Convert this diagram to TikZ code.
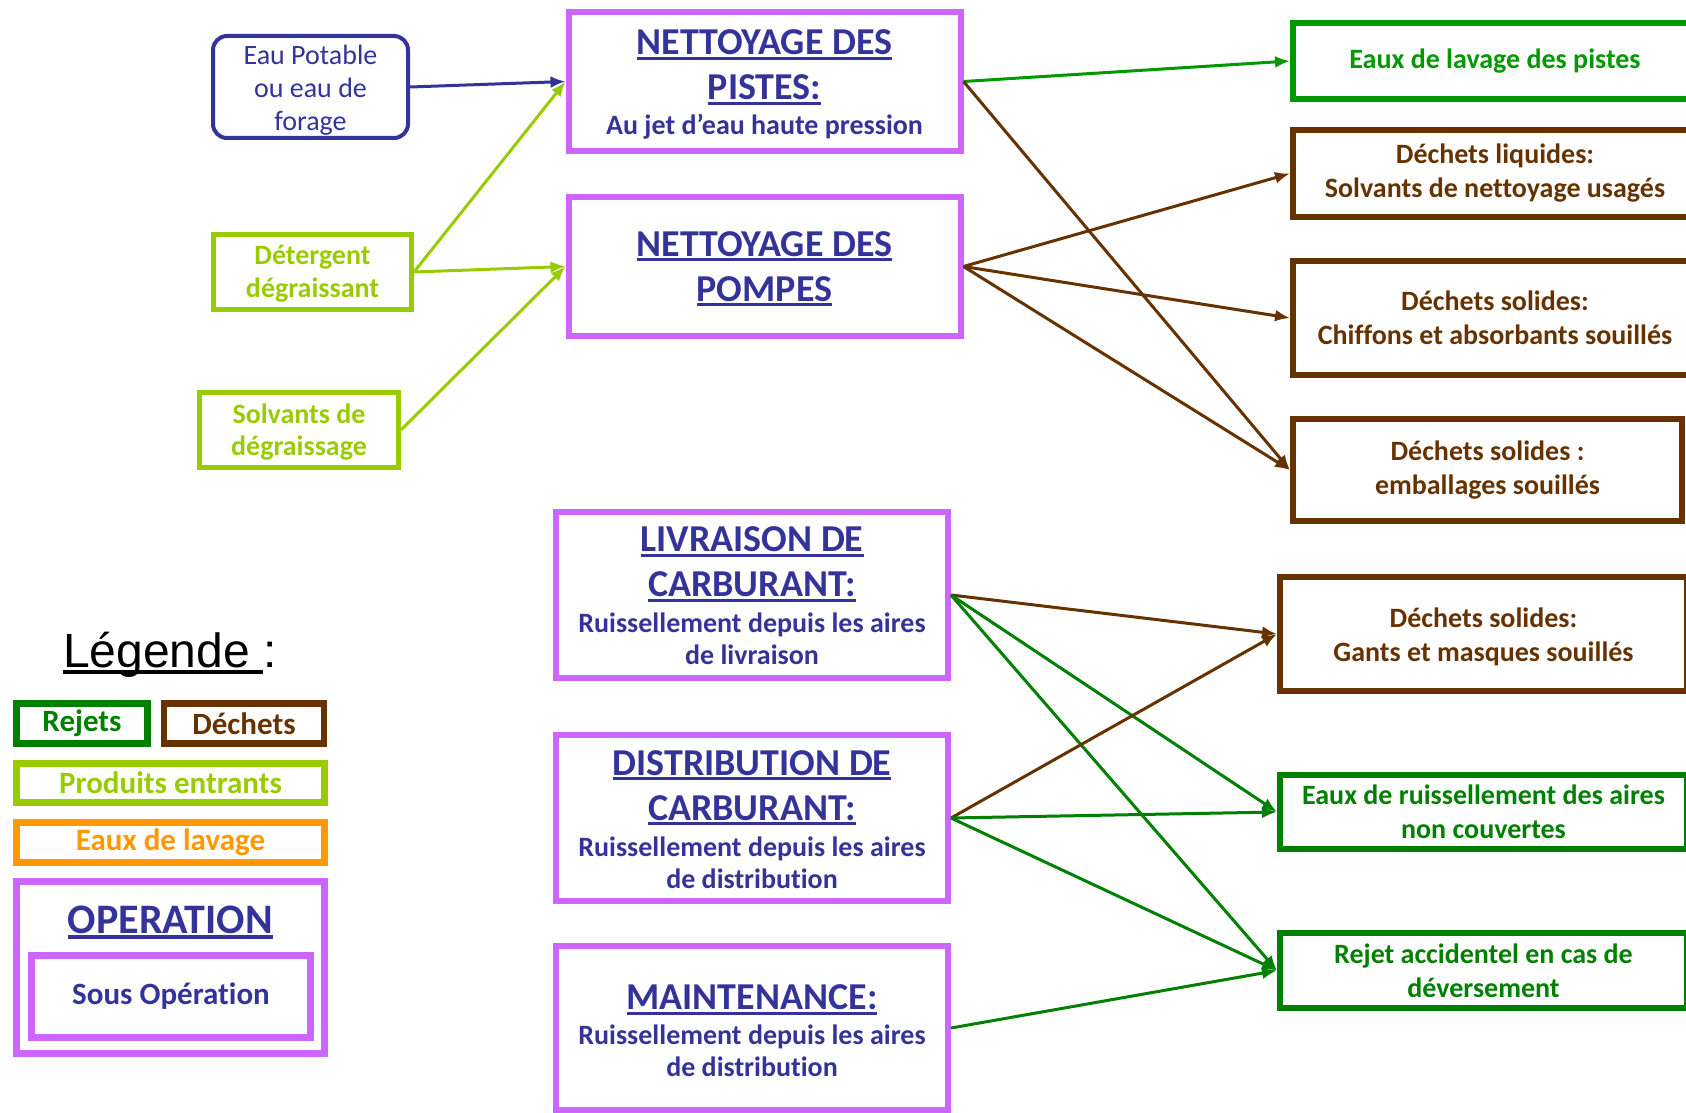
\documentclass[tikz,border=0pt]{standalone}
\usepackage{fontspec}
\setmainfont{Carlito}[Ligatures=CommonOff]
\newfontfamily\legfont{Liberation Sans}
\usetikzlibrary{arrows.meta,positioning}

\definecolor{opviolet}{HTML}{CC66FF}
\definecolor{optexte}{HTML}{333399}
\definecolor{entrant}{HTML}{99CC00}
\definecolor{rejet}{HTML}{008000}
\definecolor{rejetclair}{HTML}{009900}
\definecolor{dechet}{HTML}{663300}
\definecolor{lavage}{HTML}{FF9900}

\newcommand\souligne[1]{\setbox0\hbox{#1}\rlap{\rule[-0.13em]{\wd0}{0.075em}}\box0}
\newcommand\soustitre{\fontsize{28}{33}\selectfont}
\newcommand\haut[1]{\rule{0pt}{#1}}

\tikzset{
  >={Latex[length=15pt,width=12pt]},
  fleche/.style={->,line width=3pt},
  operation/.style={draw=opviolet,line width=6pt,rectangle,inner sep=0pt,align=center,text=optexte,font=\bfseries\fontsize{38}{45}\selectfont,minimum width=392pt},
  entree/.style={draw=entrant,line width=5pt,rectangle,inner sep=0pt,align=center,text=entrant,font=\bfseries\fontsize{28}{33}\selectfont,minimum width=198pt,minimum height=75pt},
  rejetbox/.style={draw=rejet,line width=6pt,rectangle,inner sep=0pt,align=center,text=rejet,font=\bfseries\fontsize{28}{34}\selectfont},
  dechetbox/.style={draw=dechet,line width=6pt,rectangle,inner sep=0pt,align=center,text=dechet,font=\bfseries\fontsize{28}{34}\selectfont},
  legbox/.style={line width=6.5pt,rectangle,inner sep=0pt,align=center,font=\bfseries\fontsize{31}{36}\selectfont}
}

\begin{document}
\begin{tikzpicture}[x=1pt,y=-1pt]
\useasboundingbox (0,0) rectangle (1686,1113);
\clip (0,0) rectangle (1686,1113);

% produits entrants
\node[draw=optexte,line width=4pt,rounded corners=14pt,inner sep=0pt,align=center,text=optexte,font=\fontsize{28}{33}\selectfont,minimum width=195pt,minimum height=102pt] (eau) at (310.5,87) {\haut{25pt}Eau Potable\\ou eau de\\forage};
\node[entree] (detergent) at (312.5,272) {\haut{23pt}Détergent\\dégraissant};
\node[entree,minimum width=199pt] (solvants) at (299,430) {\haut{23pt}Solvants de\\[-1pt]dégraissage};

% operations
\node[operation,minimum height=139pt] (pistes) at (764.5,81.5) {\haut{31pt}\souligne{NETTOYAGE DES}\\\souligne{PISTES:}\\[-10pt]{\soustitre Au jet d’eau haute pression}};
\node[operation,minimum height=139pt,below=40pt of pistes] (pompes) {\haut{29pt}\souligne{NETTOYAGE DES}\\\souligne{POMPES}};
\node[operation,minimum height=166pt] (livraison) at (752,595) {\haut{27pt}\souligne{LIVRAISON DE}\\\souligne{CARBURANT:}\\[-9pt]{\soustitre Ruissellement depuis les aires}\\[-13pt]{\soustitre de livraison}};
\node[operation,minimum height=166pt,below=51pt of livraison] (distribution) {\haut{28pt}\souligne{DISTRIBUTION DE}\\\souligne{CARBURANT:}\\[-9pt]{\soustitre Ruissellement depuis les aires}\\[-13pt]{\soustitre de distribution}};
\node[operation,minimum height=164pt,below=39pt of distribution] (maintenance) {\haut{31pt}\souligne{MAINTENANCE:}\\[-10pt]{\soustitre Ruissellement depuis les aires}\\[-13pt]{\soustitre de distribution}};

% rejets et dechets
\node[rejetbox,draw=rejetclair,text=rejetclair,minimum width=404pt,minimum height=76pt] (lavpistes) at (1495,61) {Eaux de lavage des pistes};
\node[dechetbox,minimum width=404pt,minimum height=87pt] (liquides) at (1495,173.5) {Déchets liquides:\\Solvants de nettoyage usagés};
\node[dechetbox,minimum width=404pt,minimum height=114pt] (chiffons) at (1495,318) {Déchets solides:\\Chiffons et absorbants souillés};
\node[dechetbox,minimum width=389pt,minimum height=102pt] (emballages) at (1487.5,470) {Déchets solides :\\emballages souillés};
\node[dechetbox,minimum width=407pt,minimum height=114pt] (gants) at (1483.5,634) {\haut{25pt}Déchets solides:\\Gants et masques souillés};
\node[rejetbox,minimum width=407pt,minimum height=74pt] (ruissellement) at (1483.5,812) {Eaux de ruissellement des aires\\non couvertes};
\node[rejetbox,minimum width=407pt,minimum height=75pt] (accidentel) at (1483.5,970.5) {Rejet accidentel en cas de\\déversement};

% fleches
\draw[fleche,optexte] (eau.east) -- (pistes.west);
\draw[fleche,entrant] (detergent.east) -- (pistes.west);
\draw[fleche,entrant] (detergent.east) -- (pompes.west);
\draw[fleche,entrant] (solvants.east) -- (pompes.west);
\draw[fleche,rejetclair] (pistes.east) -- (lavpistes.west);
\draw[fleche,dechet] (pistes.east) -- (emballages.west);
\draw[fleche,dechet] (pompes.east) -- (liquides.west);
\draw[fleche,dechet] (pompes.east) -- (chiffons.west);
\draw[fleche,dechet] (pompes.east) -- (emballages.west);
\draw[fleche,dechet] (livraison.east) -- (gants.west);
\draw[fleche,rejet] (livraison.east) -- (ruissellement.west);
\draw[fleche,rejet] (livraison.east) -- (accidentel.west);
\draw[fleche,dechet] (distribution.east) -- (gants.west);
\draw[fleche,rejet] (distribution.east) -- (ruissellement.west);
\draw[fleche,rejet] (distribution.east) -- (accidentel.west);
\draw[fleche,rejet] (maintenance.east) -- (accidentel.west);

% legende
\node[font=\legfont\fontsize{48}{56}\selectfont,inner sep=0pt] (legende) at (170,655) {\souligne{Légende\ }:};
\node[legbox,draw=rejet,text=rejet,minimum width=131pt,minimum height=40pt] (legrejets) at (82,723.5) {Rejets};
\node[legbox,draw=dechet,text=dechet,minimum width=160pt,minimum height=40pt,right=10pt of legrejets] (legdechets) {Déchets};
\node[legbox,draw=entrant,text=entrant,minimum width=308pt,minimum height=39pt] (legentrants) at (170.5,783) {Produits entrants};
\node[legbox,draw=lavage,text=lavage,minimum width=308pt,minimum height=40pt] (leglavage) at (170.5,842.5) {Eaux de lavage};
\node[legbox,draw=opviolet,minimum width=308pt,minimum height=172pt] (legop) at (170.5,967.5) {};
\node[text=optexte,font=\bfseries\fontsize{42}{48}\selectfont,inner sep=0pt] (legoptitre) at (170.5,922) {\souligne{OPERATION}};
\node[legbox,draw=opviolet,text=optexte,minimum width=279pt,minimum height=82pt] (legsousop) at (171,996.5) {Sous Opération};

\end{tikzpicture}
\end{document}
